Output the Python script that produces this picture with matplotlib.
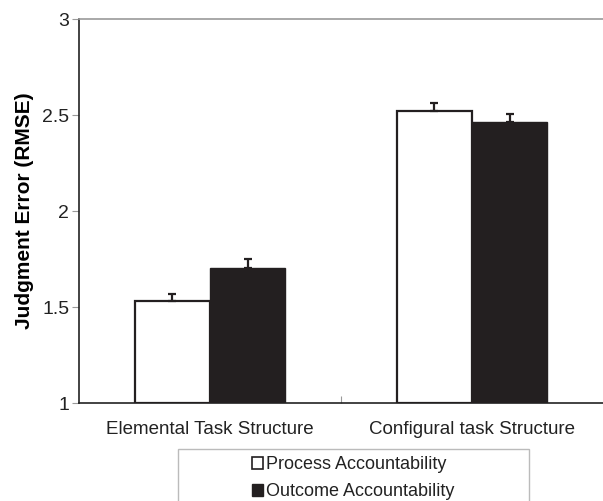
import matplotlib
matplotlib.use("Agg")
import matplotlib.pyplot as plt
from matplotlib.patches import Rectangle, Patch
import numpy as np

categories = ["Elemental Task Structure", "Configural task Structure"]
series_names = ["Process Accountability", "Outcome Accountability"]
process_vals = [1.533, 2.521]
outcome_vals = [1.703, 2.464]
process_err = [0.036, 0.043]
outcome_err = [0.048, 0.043]
yticks = [1, 1.5, 2, 2.5, 3]
ytick_labels = ["1", "1.5", "2", "2.5", "3"]

plt.rcParams['font.family'] = ['Liberation Sans', 'DejaVu Sans']

W, H = 603, 501
fig = plt.figure(figsize=(W / 100, H / 100), dpi=100)
ax = fig.add_axes([79 / W, 1 - 403 / H, (603 - 79) / W, (403 - 19) / H])

x = np.arange(len(categories))
bw = 0.287
dark = "#231f20"
ax.bar(x - bw / 2, np.array(process_vals) - 1, bw, bottom=1, color="white",
       edgecolor=dark, linewidth=1.6, zorder=3)
ax.bar(x + bw / 2, np.array(outcome_vals) - 1, bw, bottom=1, color=dark,
       edgecolor=dark, linewidth=1.0, zorder=3)
# upper error bars only
ax.errorbar(x - bw / 2, process_vals, yerr=[np.zeros(2), process_err], fmt="none",
            ecolor=dark, elinewidth=1.6, capsize=3, capthick=1.6, zorder=4)
ax.errorbar(x + bw / 2, outcome_vals, yerr=[np.zeros(2), outcome_err], fmt="none",
            ecolor=dark, elinewidth=1.6, capsize=3, capthick=1.6, zorder=4)

ax.set_xlim(-0.5, 1.5)
ax.set_ylim(1, 3)
ax.set_yticks(yticks)
ax.set_yticklabels(ytick_labels, fontsize=14, color="#222222")
ax.set_xticks([0.5])
ax.set_xticklabels([""])
ax.xaxis.set_minor_locator(plt.FixedLocator(x))
ax.xaxis.set_minor_formatter(plt.FixedFormatter(categories))
ax.tick_params(axis="x", which="minor", length=0, pad=13, labelsize=13.5, labelcolor="#222222")
ax.tick_params(axis="x", which="major", length=5, color="#999999", direction="in")
ax.tick_params(axis="y", length=5, color="#999999", pad=2)

for s in ["right"]:
    ax.spines[s].set_visible(False)
ax.spines["top"].set_color("#999999")
ax.spines["top"].set_linewidth(1.2)
ax.spines["left"].set_color("#222222")
ax.spines["left"].set_linewidth(1.2)
ax.spines["bottom"].set_color("#222222")
ax.spines["bottom"].set_linewidth(1.2)

ax.set_ylabel("Judgment Error (RMSE)", fontsize=15, fontweight="bold", labelpad=6)

# legend box
fig.patches.append(Rectangle((178 / W, 1 - 520 / H), (529 - 178) / W, (520 - 449) / H,
                             transform=fig.transFigure, facecolor="white",
                             edgecolor="#bbbbbb", linewidth=1.0, zorder=1))
handles = [Patch(facecolor="white", edgecolor=dark, linewidth=1.2),
           Patch(facecolor=dark, edgecolor=dark)]
leg = fig.legend(handles, series_names, loc="upper center",
                 bbox_to_anchor=(353 / W, 1 - 447 / H), frameon=False,
                 fontsize=13, handlelength=0.65, handleheight=0.65,
                 handletextpad=0.15, labelspacing=0.55, borderpad=0)
for t in leg.get_texts():
    t.set_color("#222222")

fig.savefig("out.png", dpi=100, facecolor="white")
